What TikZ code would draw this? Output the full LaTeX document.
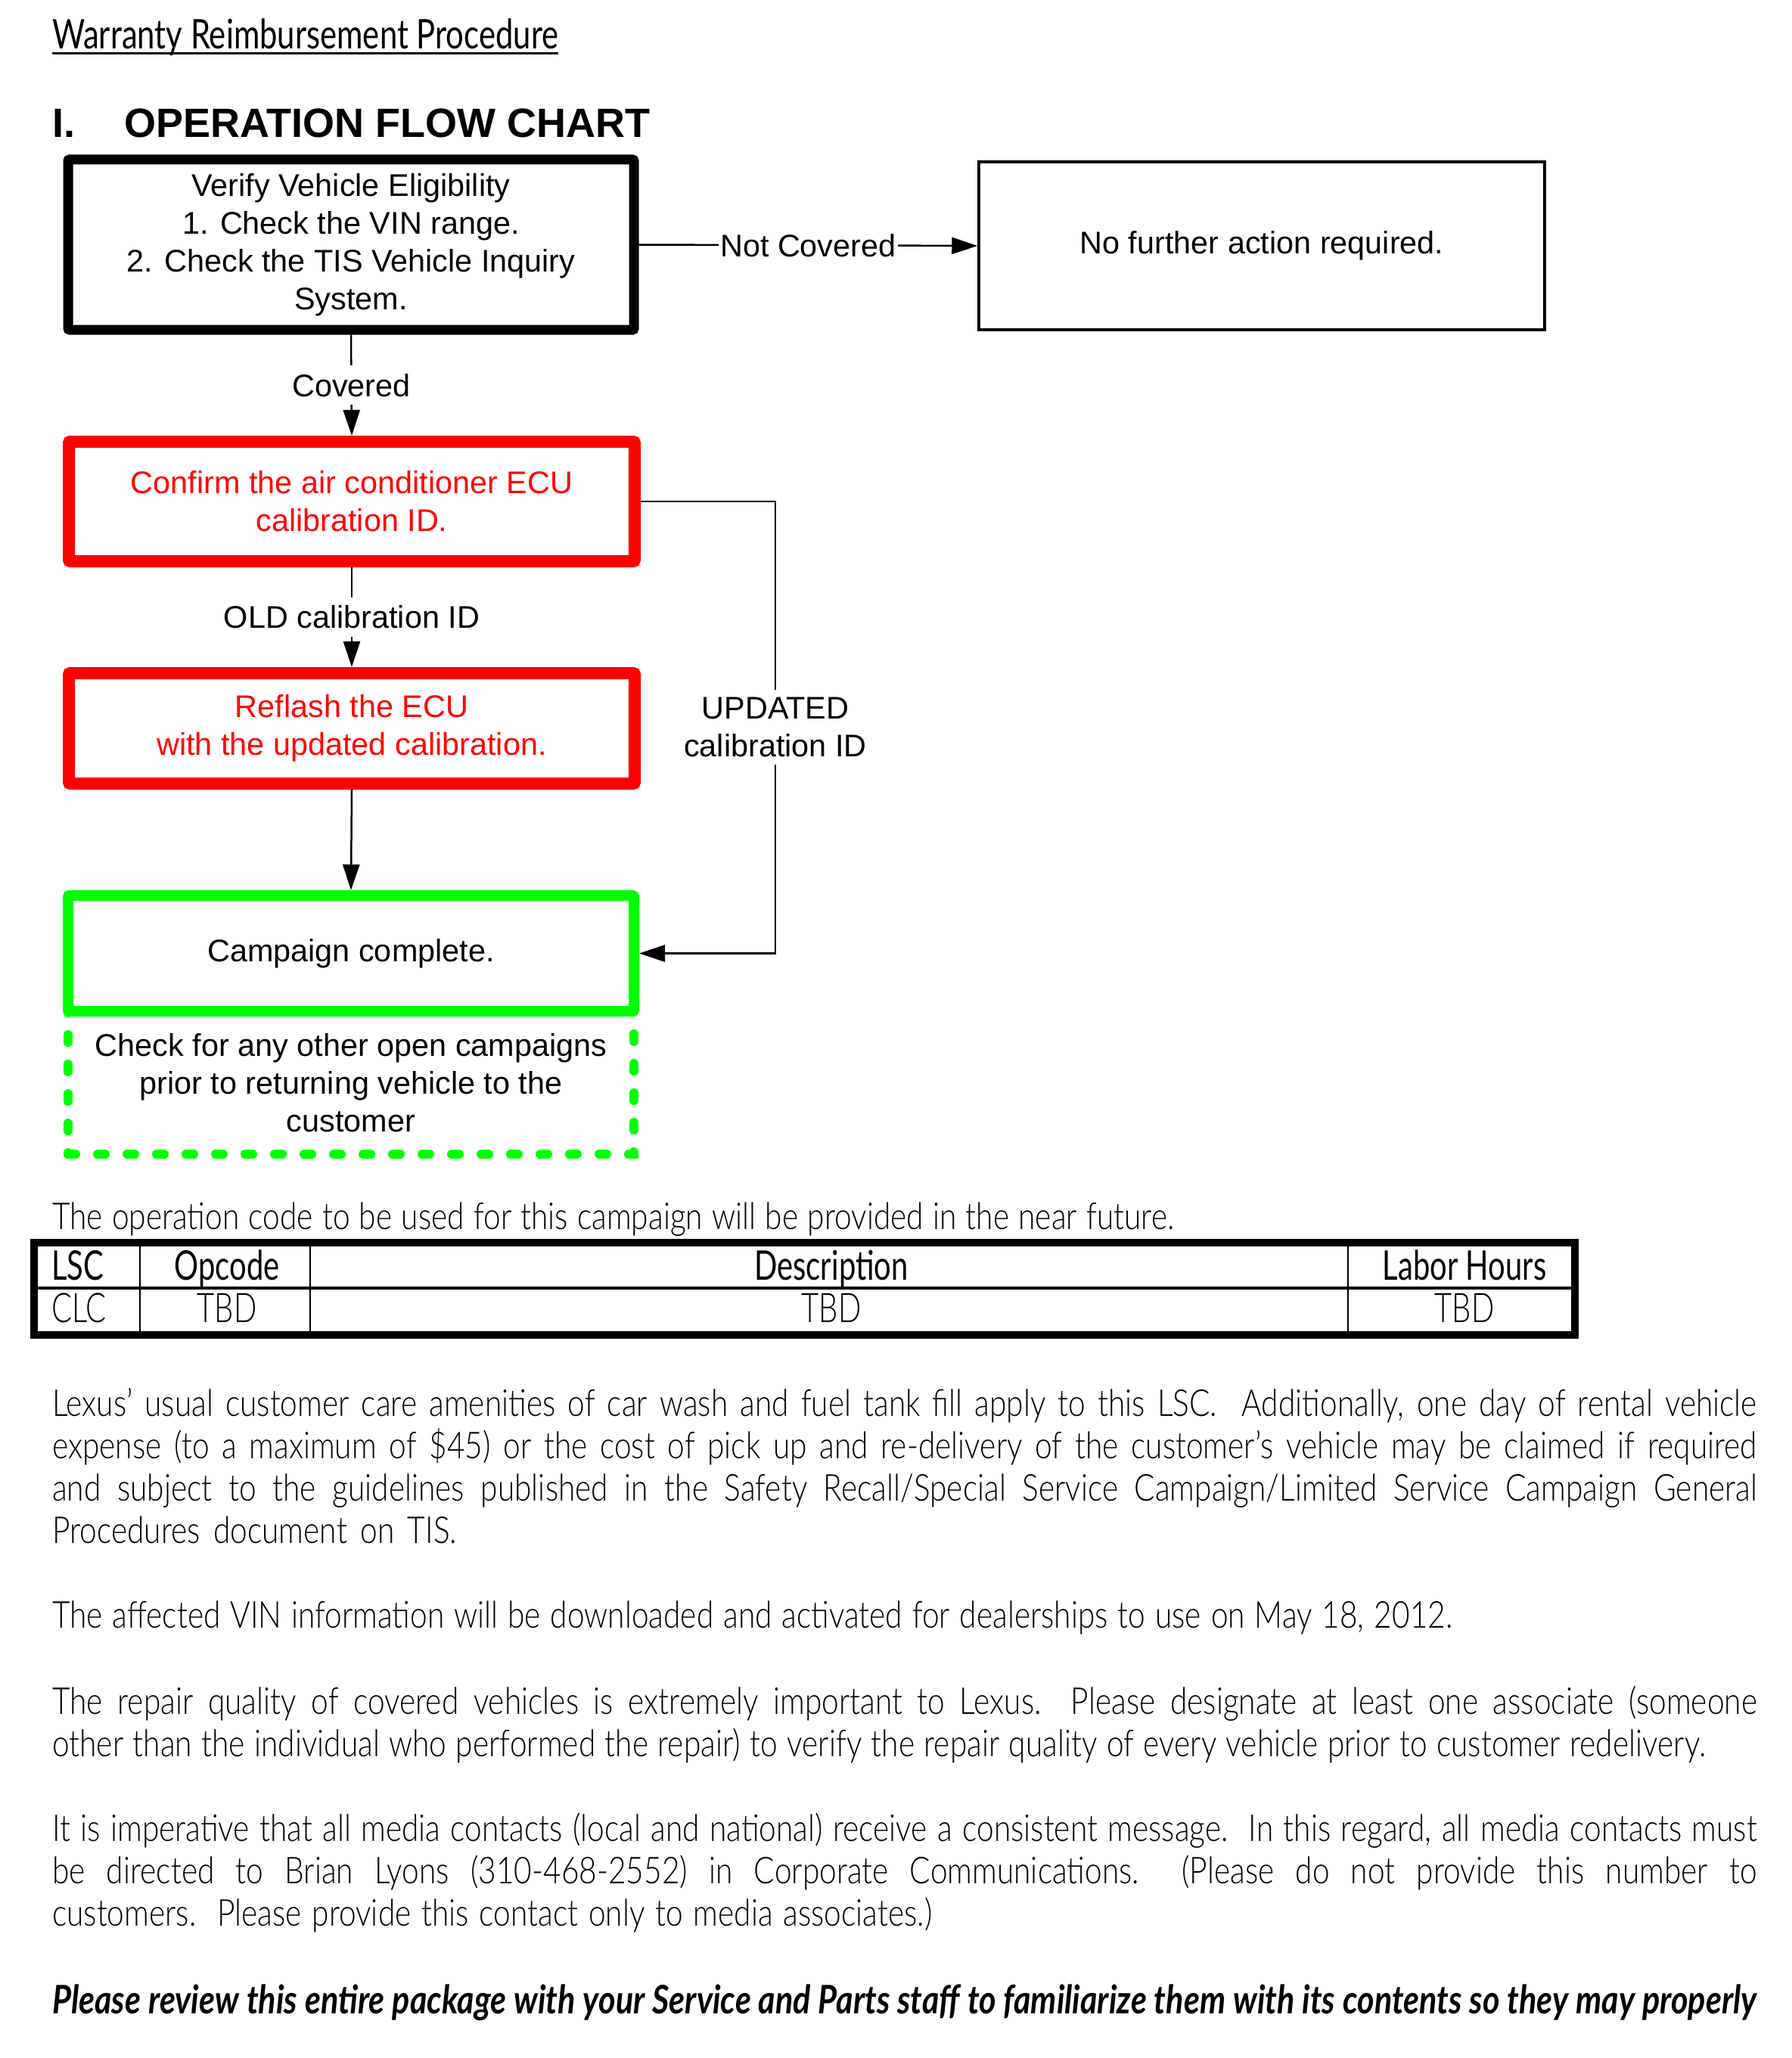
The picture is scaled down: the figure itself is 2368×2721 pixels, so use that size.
\documentclass[tikz,border=0pt]{standalone}
\usepackage{fontspec}
\usepackage{graphicx}
\usetikzlibrary{arrows.meta}
\setmainfont{Liberation Sans}
\newfontfamily\arial{Liberation Sans}
\newfontfamily\futb{Lato}[FakeStretch=0.83]
\newfontfamily\futc{Lato}[FakeStretch=0.74]
\IfFontExistsTF{Lato Light}
  {\newfontfamily\fut{Lato Light}[FakeStretch=0.83]\newfontfamily\futlc{Lato Light}[FakeStretch=0.74]}
  {\IfFontExistsTF{Lato-Light.ttf}
     {\newfontfamily\fut{Lato-Light.ttf}[FakeStretch=0.83]\newfontfamily\futlc{Lato-Light.ttf}[FakeStretch=0.74]}
     {\newfontfamily\fut{Lato}[FakeStretch=0.83]\newfontfamily\futlc{Lato}[FakeStretch=0.74]}}
\newcommand\jline[2]{\setbox0=\hbox{#2}\ifdim\wd0>#1\relax\pgfmathsetmacro\myratio{#1/\the\wd0}\hbox{\scalebox{\myratio}[1]{\box0}}\else\hbox to #1{\unhbox0}\fi}
\tikzset{
  flow/.style={font=\arial\fontsize{41.4}{50}\selectfont, align=center, inner sep=0pt},
  fbox/.style={flow, draw, minimum width=748pt, rounded corners=2pt},
  redbox/.style={fbox, draw=red, text=red, line width=16pt},
  lab/.style={flow, fill=white, inner xsep=2pt, inner ysep=11pt},
  arr/.style={draw, line width=2.5pt, -{Triangle[length=34pt,width=22pt]}},
  body/.style={font=\fut\fontsize{49}{56}\selectfont, inner sep=0pt, anchor=base west},
  tabh/.style={font=\futc\fontsize{54}{56}\selectfont, inner sep=0pt},
  tabr/.style={font=\futlc\fontsize{54}{56}\selectfont, inner sep=0pt},
}
\begin{document}
\begin{tikzpicture}[x=1pt,y=-1pt]
\useasboundingbox (0,0) rectangle (2368,2721);
\fill[white] (0,0) rectangle (2368,2721);

% titles
\node[font=\futb\fontsize{54}{60}\selectfont, inner sep=0pt, anchor=base west] (ttl) at (69,65) {\jline{669pt}{Warranty Reimbursement Procedure}};
\draw[line width=3pt] ([yshift=-6pt]ttl.base west) -- ([yshift=-6pt]ttl.base east);
\node[font=\arial\bfseries\fontsize{54}{60}\selectfont, inner sep=0pt, anchor=base west] (hI) at (69,182) {I.};
\node[font=\arial\bfseries\fontsize{54}{60}\selectfont, inner sep=0pt, anchor=base west] (hOp) at (164,182) {OPERATION FLOW CHART};

% flow chart
\node[fbox, line width=13pt, minimum height=225pt] (b1) at (464,323.5)
  {Verify Vehicle Eligibility\\1. Check the VIN range.\\2. Check the TIS Vehicle Inquiry\\System.};
\node[fbox, line width=3.5pt, minimum height=222pt, rounded corners=0pt] (b2) at (1668,325) {No further action required.};
\node[redbox, minimum height=158pt] (r1) at (465,663) {Confirm the air conditioner ECU\\calibration ID.};
\node[redbox, minimum height=146pt] (r2) at (465,963) {Reflash the ECU\\with the updated calibration.};
\node[fbox, draw=green, line width=14pt, minimum height=153pt] (g) at (464,1260.5) {Campaign complete.};
\node[flow, draw=green, line width=12pt, dash pattern=on 10pt off 29pt, line cap=round,
      minimum width=748pt, minimum height=189pt] (chk) at (464,1431.5)
  {Check for any other open campaigns\\prior to returning vehicle to the\\customer};

\draw[arr] (b1.east) -- (b2.west) node[midway, lab] {Not Covered};
\draw[arr] (b1.south) -- (r1.north) node[midway, lab] {Covered};
\draw[arr] (r1.south) -- (r2.north) node[midway, lab] {OLD calibration ID};
\draw[arr] (r2.south) -- (g.north);
\coordinate (upc) at (1025,663);
\draw[arr] (r1.east) -- (upc) |- (g.east) node[pos=0.25, lab, inner ysep=10pt] {UPDATED\\calibration ID};

% operation code line and table
\node[body] (opl) at (69,1625) {\jline{1483pt}{The operation code to be used for this campaign will be provided in the near future.}};
\draw[line width=10pt] (45,1643) rectangle (2082,1765);
\draw[line width=2.5pt] (185,1643) -- (185,1765) (410,1643) -- (410,1765) (1782,1643) -- (1782,1765);
\draw[line width=4pt] (45,1703) -- (2082,1703);
\node[tabh, anchor=base west] (tLSC) at (68,1692) {LSC};
\node[tabh, anchor=base] (tOp) at (300,1692) {Opcode};
\node[tabh, anchor=base] (tDe) at (1099,1692) {Description};
\node[tabh, anchor=base] (tLa) at (1936,1692) {Labor Hours};
\node[tabr, anchor=base west] (tCLC) at (68,1748) {CLC};
\node[tabr, anchor=base] (tT1) at (300,1748) {TBD};
\node[tabr, anchor=base] (tT2) at (1099,1748) {TBD};
\node[tabr, anchor=base] (tT3) at (1936,1748) {TBD};

% paragraphs
\node[body] (p1) at (69,1872) {\vtop{%
  \jline{2253pt}{Lexus’ usual customer care amenities of car wash and fuel tank fill apply to this LSC.\ \ Additionally, one day of rental vehicle}%
  \jline{2253pt}{expense (to a maximum of \$45) or the cost of pick up and re-delivery of the customer’s vehicle may be claimed if required}%
  \jline{2253pt}{and subject to the guidelines published in the Safety Recall/Special Service Campaign/Limited Service Campaign General}%
  \jline{535pt}{Procedures document on TIS.}}};
\node[body] (p2) at (69,2152) {\jline{1851pt}{The affected VIN information will be downloaded and activated for dealerships to use on May 18, 2012.}};
\node[body] (p3) at (69,2266) {\vtop{%
  \jline{2253pt}{The repair quality of covered vehicles is extremely important to Lexus.\ \ Please designate at least one associate (someone}%
  \jline{2185pt}{other than the individual who performed the repair) to verify the repair quality of every vehicle prior to customer redelivery.}}};
\node[body] (p4) at (69,2434) {\vtop{%
  \jline{2253pt}{It is imperative that all media contacts (local and national) receive a consistent message.\ \ In this regard, all media contacts must}%
  \jline{2253pt}{be directed to Brian Lyons (310-468-2552) in Corporate Communications.\ \ (Please do not provide this number to}%
  \jline{1163pt}{customers.\ \ Please provide this contact only to media associates.)}}};
\node[body, font=\futb\bfseries\itshape\fontsize{52}{56}\selectfont] (p5) at (69,2662)
  {\jline{2253pt}{Please review this entire package with your Service and Parts staff to familiarize them with its contents so they may properly}};
\end{tikzpicture}
\end{document}
